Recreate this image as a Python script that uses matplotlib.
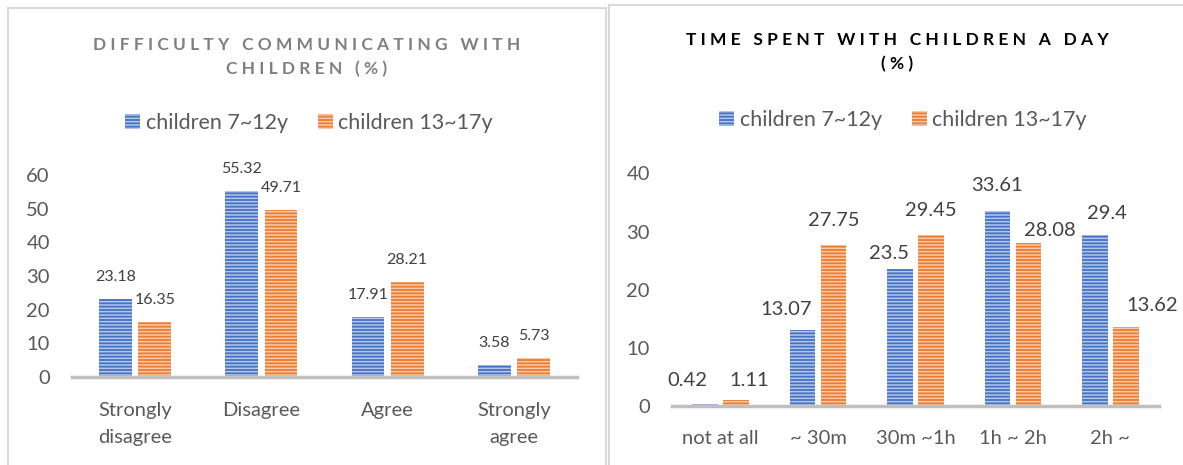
import matplotlib.pyplot as plt
from matplotlib.patches import Patch, Rectangle

# datos
cats_left = ["Strongly\ndisagree", "Disagree", "Agree", "Strongly\nagree"]
young_left = [23.18, 55.32, 17.91, 3.58]
teen_left = [16.35, 49.71, 28.21, 5.73]

cats_right = ["not at all", "~ 30m", "30m ~1h", "1h ~ 2h", "2h ~"]
young_right = [0.42, 13.07, 23.5, 33.61, 29.4]
teen_right = [1.11, 27.75, 29.45, 28.08, 13.62]

series_names = ["children 7~12y", "children 13~17y"]

# desplazamientos de etiquetas (pixeles) en el panel derecho
young_off = [(-18, 23), (-17, 21), (-11, 16), (0, 25), (12, 22)]
teen_off = [(13, 19), (0, 24), (0, 24), (21, 12), (26, 21)]

BLUE, BLUE_L = "#4472C4", "#B4C7EA"
ORANGE, ORANGE_L = "#ED7D31", "#F8C9A8"
W, H = 1183, 465

plt.rcParams['font.family'] = ['Lato', 'DejaVu Sans']
plt.rcParams['hatch.linewidth'] = 1.1

fig = plt.figure(figsize=(W / 100, H / 100), dpi=100)


def px_axes(x0, x1, ytop, ybot):
    return fig.add_axes([x0 / W, (H - ybot) / H, (x1 - x0) / W, (ybot - ytop) / H])


def striped_bars(ax, x, vals, color, light):
    ax.bar(x, vals, width=bw, color=color, edgecolor='none')
    ax.bar(x, vals, width=bw, fill=False, hatch='-----', edgecolor=light, linewidth=0)


def spaced(s):
    return "   ".join(" ".join(w) for w in s.split(" "))


def style_axes(ax, cats, ymax, ystep, xpad):
    n = len(cats)
    ax.set_xlim(-0.5, n - 0.5)
    ax.set_ylim(0, ymax)
    ax.set_yticks(range(0, ymax + 1, ystep))
    ax.set_xticks(range(n))
    ax.set_xticklabels(cats, fontsize=15.5, color="#595959", linespacing=1.7)
    for s in ["left", "right", "top"]:
        ax.spines[s].set_visible(False)
    ax.spines["bottom"].set_color("#BFBFBF")
    ax.spines["bottom"].set_linewidth(2.5)
    ax.tick_params(axis='both', length=0, labelsize=14.5, labelcolor="#595959")
    ax.tick_params(axis='x', pad=xpad)
    ax.tick_params(axis='y', pad=16)
    ax.patch.set_alpha(0)


# bordes de los paneles
fig.patches.append(Rectangle((8 / W, -0.1), 598 / W, (H - 8) / H + 0.1, transform=fig.transFigure,
                             fill=False, edgecolor="#D9D9D9", linewidth=1.5))
fig.patches.append(Rectangle((609 / W, -0.1), 600 / W, (H - 5) / H + 0.1, transform=fig.transFigure,
                             fill=False, edgecolor="#D9D9D9", linewidth=1.5))

# ---- panel izquierdo
bw = 0.26
ax1 = px_axes(72, 577, 175, 377)
xs = list(range(len(cats_left)))
striped_bars(ax1, [x - 0.155 for x in xs], young_left, BLUE, BLUE_L)
striped_bars(ax1, [x + 0.155 for x in xs], teen_left, ORANGE, ORANGE_L)
style_axes(ax1, cats_left, 60, 10, 18)
for x, v in zip(xs, young_left):
    ax1.annotate(f"{v:g}", (x - 0.155, v), xytext=(0, 22), textcoords='offset pixels',
                 ha='center', va='center', fontsize=11.5, color="#404040")
for x, v in zip(xs, teen_left):
    ax1.annotate(f"{v:g}", (x + 0.155, v), xytext=(0, 22), textcoords='offset pixels',
                 ha='center', va='center', fontsize=11.5, color="#404040")

fig.text(307 / W, 1 - 57 / H, spaced("DIFFICULTY COMMUNICATING WITH") + "\n" + spaced("CHILDREN (%)"),
         ha='center', va='center', fontsize=12.5, fontweight='bold', color="#808080", linespacing=1.55)

# ---- panel derecho
bw = 0.262
ax2 = px_axes(672, 1159, 173.5, 406)
xs = list(range(len(cats_right)))
striped_bars(ax2, [x - 0.159 for x in xs], young_right, BLUE, BLUE_L)
striped_bars(ax2, [x + 0.159 for x in xs], teen_right, ORANGE, ORANGE_L)
style_axes(ax2, cats_right, 40, 10, 17.5)
for x, v, off in zip(xs, young_right, young_off):
    ax2.annotate(f"{v:g}", (x - 0.159, v), xytext=off, textcoords='offset pixels',
                 ha='center', va='center', fontsize=14.5, color="#404040")
for x, v, off in zip(xs, teen_right, teen_off):
    ax2.annotate(f"{v:g}", (x + 0.159, v), xytext=off, textcoords='offset pixels',
                 ha='center', va='center', fontsize=14.5, color="#404040")

fig.text(897 / W, 1 - 52 / H, spaced("TIME SPENT WITH CHILDREN A DAY") + "\n" + spaced("(%)"),
         ha='center', va='center', fontsize=12.5, fontweight='bold', color="#000000", linespacing=1.65)

# leyendas
handles = [Patch(facecolor=BLUE, edgecolor=BLUE_L, hatch='-----', linewidth=0),
           Patch(facecolor=ORANGE, edgecolor=ORANGE_L, hatch='-----', linewidth=0)]
for cx, cy in [(309, 123), (903, 120)]:
    fig.legend(handles, series_names, loc='center', bbox_to_anchor=(cx / W, 1 - cy / H), ncol=2,
               frameon=False, fontsize=15.5, handlelength=0.7, handleheight=0.7,
               handletextpad=0.25, columnspacing=1.4, labelcolor="#595959")

fig.savefig("out.png", dpi=100)
